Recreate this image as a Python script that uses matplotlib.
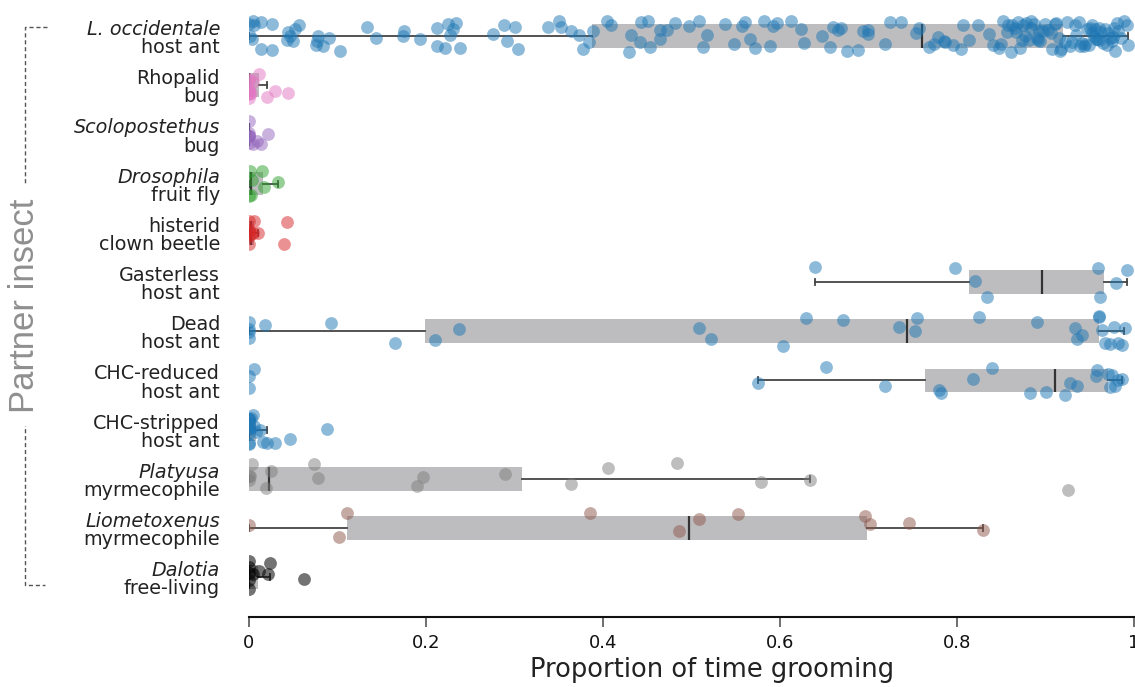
import numpy as np
import matplotlib
matplotlib.use("Agg")
import matplotlib.pyplot as plt
import matplotlib.transforms as mtransforms
from matplotlib.lines import Line2D

plt.rcParams['font.family'] = ['DejaVu Sans']

# ---- categories -----------------------------------------------------------
label_top = ["L. occidentale", "Rhopalid", "Scolopostethus", "Drosophila",
             "histerid", "Gasterless", "Dead", "CHC-reduced", "CHC-stripped",
             "Platyusa", "Liometoxenus", "Dalotia"]
label_bottom = ["host ant", "bug", "bug", "fruit fly", "clown beetle",
                "host ant", "host ant", "host ant", "host ant",
                "myrmecophile", "myrmecophile", "free-living"]
italic_top = [True, False, True, True, False, False, False, False, False,
              True, True, True]
point_colors = ["#1f77b4", "#e377c2", "#9467bd", "#2ca02c", "#d62728",
                "#1f77b4", "#1f77b4", "#1f77b4", "#1f77b4",
                "#7f7f7f", "#8c564b", "#000000"]

# ---- proportion of time grooming, per trial ---------------------------------
occidentale = [0.000, 0.001, 0.003, 0.005, 0.006, 0.013, 0.014, 0.026, 0.026,
               0.043, 0.044, 0.046, 0.050, 0.052, 0.056, 0.076, 0.077, 0.078,
               0.084, 0.090, 0.103, 0.133, 0.143, 0.174, 0.175, 0.193, 0.212,
               0.212, 0.221, 0.225, 0.227, 0.231, 0.234, 0.238, 0.276, 0.288,
               0.292, 0.301, 0.304,
               0.338, 0.350, 0.352, 0.364, 0.373, 0.377, 0.384, 0.389, 0.404,
               0.409, 0.429, 0.432, 0.442, 0.443, 0.451, 0.453, 0.464, 0.464,
               0.472, 0.481, 0.497, 0.508, 0.513, 0.518, 0.538, 0.548, 0.557,
               0.560, 0.566, 0.572, 0.582, 0.589, 0.592, 0.597, 0.612, 0.624,
               0.627, 0.647, 0.656, 0.660,
               0.666, 0.669, 0.676, 0.688, 0.694, 0.699, 0.699, 0.719, 0.724,
               0.737, 0.754, 0.757, 0.768, 0.774, 0.778, 0.785, 0.786, 0.795,
               0.805, 0.807, 0.813, 0.824, 0.836, 0.841, 0.847, 0.850, 0.852,
               0.857, 0.858, 0.861, 0.862, 0.866, 0.867, 0.869, 0.871, 0.874,
               0.875, 0.877, 0.878, 0.881, 0.884, 0.884, 0.887, 0.890, 0.892,
               0.893, 0.894, 0.897, 0.899, 0.903, 0.906, 0.907, 0.911, 0.912,
               0.915, 0.916, 0.918, 0.922, 0.924, 0.928, 0.930, 0.933, 0.935,
               0.938, 0.939, 0.941, 0.944, 0.945, 0.947, 0.949, 0.950, 0.952,
               0.953, 0.955, 0.956, 0.957, 0.958, 0.960, 0.961, 0.963, 0.965,
               0.967, 0.969, 0.971, 0.973, 0.975, 0.976, 0.977, 0.979, 0.981,
               0.982, 0.985, 0.989, 0.992, 0.993]
rhopalid = [0, 0, 0, 0, 0, 0, 0, 0.002, 0.004, 0.011, 0.020, 0.029, 0.044]
scolopostethus = [0, 0, 0, 0, 0, 0, 0.005, 0.009, 0.014, 0.022]
drosophila = [0, 0.001, 0.002, 0.003, 0.015, 0.017, 0.033]
histerid = [0, 0, 0, 0, 0, 0.002, 0.004, 0.006, 0.010, 0.039, 0.043]
gasterless = [0.640, 0.798, 0.820, 0.834, 0.959, 0.962, 0.980, 0.992]
dead = [0, 0, 0, 0, 0.018, 0.093, 0.165, 0.210, 0.237, 0.508, 0.522, 0.603,
        0.629, 0.671, 0.734, 0.753, 0.755, 0.825, 0.890, 0.933, 0.936, 0.941,
        0.960, 0.960, 0.964, 0.967, 0.973, 0.977, 0.982, 0.986, 0.990]
chc_reduced = [0, 0, 0.006, 0.575, 0.652, 0.719, 0.780, 0.782, 0.818, 0.840,
               0.882, 0.901, 0.922, 0.928, 0.936, 0.957, 0.958, 0.971, 0.973,
               0.975, 0.979, 0.982, 0.986]
chc_stripped = [0, 0, 0, 0, 0, 0, 0, 0, 0, 0, 0.002, 0.004, 0.006, 0.008,
                0.012, 0.016, 0.020, 0.029, 0.046, 0.088]
platyusa = [0, 0, 0.001, 0.003, 0.019, 0.025, 0.073, 0.078, 0.190, 0.197,
            0.289, 0.364, 0.406, 0.484, 0.579, 0.634, 0.925]
liometoxenus = [0, 0.102, 0.111, 0.385, 0.486, 0.509, 0.552, 0.696, 0.702,
                0.746, 0.829]
dalotia = [0, 0, 0, 0, 0, 0.004, 0.011, 0.022, 0.024, 0.062]

groups = [occidentale, rhopalid, scolopostethus, drosophila, histerid,
          gasterless, dead, chc_reduced, chc_stripped, platyusa,
          liometoxenus, dalotia]

# ---- box summaries (whisker low, Q1, median, Q3, whisker high) -------------
whislo = [0.000, 0.000, 0.000, 0.000, 0.000, 0.640, 0.000, 0.575, 0.000, 0.000, 0.000, 0.000]
q1     = [0.388, 0.000, 0.000, 0.000, 0.000, 0.814, 0.199, 0.764, 0.000, 0.000, 0.111, 0.000]
med    = [0.760, 0.000, 0.000, 0.002, 0.002, 0.896, 0.744, 0.911, 0.000, 0.023, 0.497, 0.000]
q3     = [0.920, 0.011, 0.001, 0.016, 0.006, 0.966, 0.960, 0.971, 0.008, 0.308, 0.698, 0.010]
whishi = [0.993, 0.020, 0.001, 0.033, 0.010, 0.992, 0.989, 0.986, 0.020, 0.634, 0.829, 0.024]

# ---- figure ------------------------------------------------------------------
W, H = 1135, 687
fig = plt.figure(figsize=(W / 100, H / 100), dpi=100)
ax = fig.add_axes([249 / W, (H - 617) / H, 885 / W, (617 - 6.5) / H])

positions = np.arange(len(groups))
stats = [dict(whislo=a, q1=b, med=c, q3=d, whishi=e, fliers=[])
         for a, b, c, d, e in zip(whislo, q1, med, q3, whishi)]
bxp_kw = dict(positions=positions, widths=0.48, patch_artist=True,
              showfliers=False, capwidths=0.12,
              boxprops=dict(facecolor="#bdbdbf", edgecolor="none", linewidth=0),
              whiskerprops=dict(color="#444444", linewidth=1.3),
              capprops=dict(color="#444444", linewidth=1.3),
              medianprops=dict(color="#333333", linewidth=1.6),
              manage_ticks=False, zorder=1)
try:
    ax.bxp(stats, orientation="horizontal", **bxp_kw)
except TypeError:
    ax.bxp(stats, vert=False, **bxp_kw)

rng = np.random.default_rng(11)
for i, (vals, col) in enumerate(zip(groups, point_colors)):
    vals = np.asarray(vals, dtype=float)
    jitter = rng.uniform(-0.32, 0.32, len(vals))
    ax.scatter(vals, i + jitter, s=85, color=col,
               alpha=0.5 if col != "#000000" else 0.55,
               linewidths=0, zorder=3)

ax.set_xlim(0, 1)
ax.set_ylim(11.81, -0.6)
ax.set_xticks([0, 0.2, 0.4, 0.6, 0.8, 1.0])
ax.set_xticklabels(["0", "0.2", "0.4", "0.6", "0.8", "1"])
ax.set_yticks([])
for s in ("left", "top", "right"):
    ax.spines[s].set_visible(False)
ax.spines["bottom"].set_linewidth(1.5)
ax.spines["bottom"].set_color("#111111")
ax.tick_params(axis="x", length=7, width=1.2, color="#555555", pad=5,
               labelsize=13, labelcolor="#111111")

ax.set_xlabel("Proportion of time grooming", fontsize=18.5, color="#222222")
ax.xaxis.set_label_coords(0.523, -0.066)

# two-line category labels
lab_tr = mtransforms.offset_copy(ax.get_yaxis_transform(), fig=fig, x=-29, y=0, units="dots")
for i in positions:
    ax.text(0, i - 0.02, label_top[i], transform=lab_tr, ha="right", va="baseline",
            fontsize=13.8, color="#222222",
            style="italic" if italic_top[i] else "normal")
    ax.text(0, i + 0.35, label_bottom[i], transform=lab_tr, ha="right", va="baseline",
            fontsize=13.8, color="#222222")

# group label with dashed bracket
fig.text(24.5 / W, (H - 306) / H, "Partner insect", rotation=90,
         ha="center", va="center", fontsize=25, color="#8f8f8f",
         family=["Liberation Sans", "DejaVu Sans"],
         bbox=dict(facecolor="white", edgecolor="none", pad=9), zorder=3)

br_tr = mtransforms.blended_transform_factory(fig.transFigure, ax.transData)
xo, xs1, xs2 = 24.5 / W, 47 / W, 45 / W
fig.add_artist(Line2D([xs1, xo, xo, xs2], [-0.18, -0.18, 11.16, 11.16],
                      transform=br_tr, color="#555555", linewidth=1.0,
                      linestyle=(0, (3, 2)), zorder=-1))

fig.savefig("out.png", dpi=100)
